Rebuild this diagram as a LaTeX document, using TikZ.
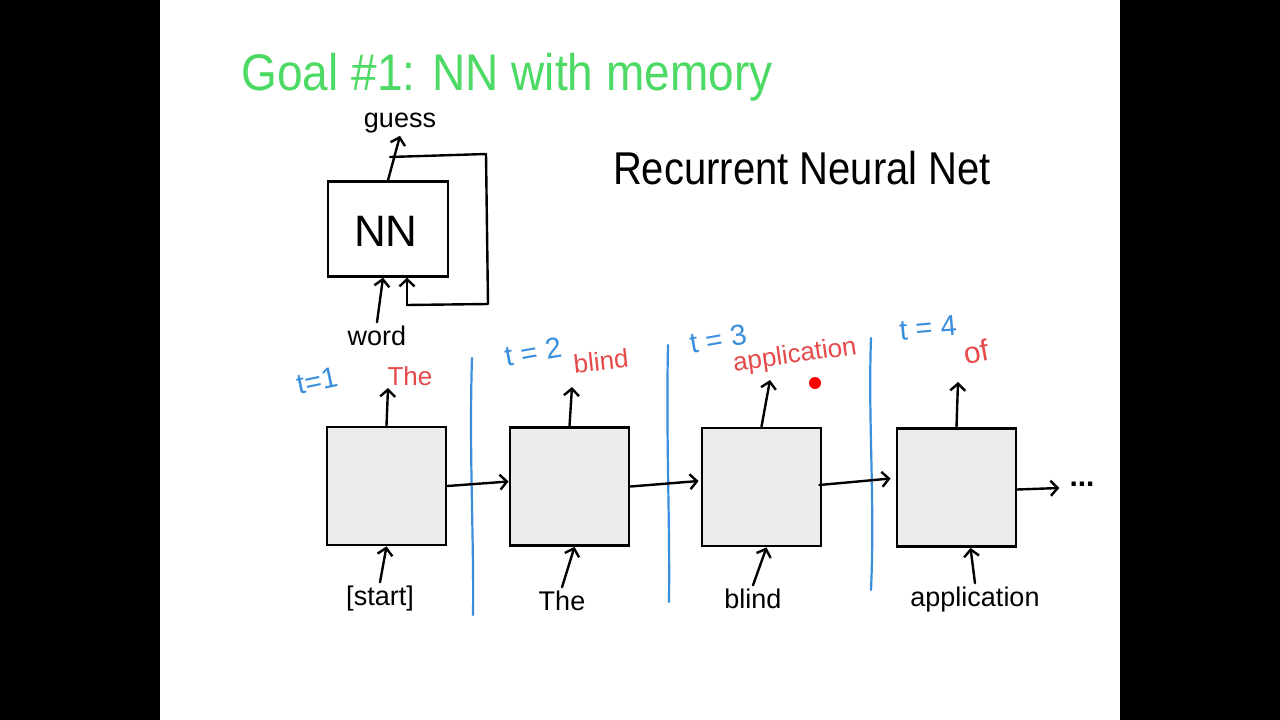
\documentclass[tikz,border=0pt]{standalone}
\usepackage{fontspec}
\setmainfont{Liberation Sans}
\usetikzlibrary{arrows.meta,calc}
\definecolor{hgreen}{HTML}{4CD964}
\definecolor{hred}{HTML}{E64A4A}
\definecolor{hblue}{HTML}{3A8EDE}
\definecolor{boxgray}{HTML}{ECECEC}
\begin{document}
\begin{tikzpicture}[x=1pt,y=-1pt,
  ink/.style={line width=2.4pt,draw=black,line cap=round,line join=round},
  arr/.style={ink,-{Straight Barb[length=7pt,width=15pt,line width=2.4pt]}},
  cell/.style={draw=black,line width=2.8pt,fill=boxgray,minimum width=119pt,minimum height=118pt,inner sep=0pt},
  nnbox/.style={draw=black,line width=2.4pt,minimum width=120pt,minimum height=95pt,inner sep=0pt},
  blk/.style={text=black,inner sep=3pt,font=\fontsize{27}{30}\selectfont},
  rlbl/.style={text=hred,inner sep=1pt,font=\fontsize{26}{30}\selectfont},
  tlbl/.style={text=hblue,inner sep=1pt,font=\fontsize{29}{32}\selectfont},
  sep/.style={draw=hblue,line width=2.2pt,line cap=round}]
\fill[black] (0,0) rectangle (1280,720);
\fill[white] (160,0) rectangle (1120,720);
\useasboundingbox (0,0) rectangle (1280,720);

% title
\node[anchor=base,text=hgreen,inner sep=0pt,font=\fontsize{46}{50}\selectfont,yscale=1.12] (title) at (507,90) {Goal \#1: NN with memory};
\node[anchor=base,text=black,inner sep=0pt,font=\fontsize{40}{46}\selectfont,yscale=1.15] (rnn) at (802,184) {Recurrent Neural Net};

% small NN with loop
\node[nnbox] (nn) at (388,229) {};
\node[anchor=base,inner sep=0pt,font=\fontsize{44}{48}\selectfont] (nntext) at (386,246) {NN};
\node[blk,anchor=base] (guess) at (400,127) {guess};
\node[blk,anchor=base] (word) at (377,345) {word};
\coordinate (loopstart) at (390,157);
\coordinate (nnin) at ($(nn.south)+(19,0)$);
\draw[arr] (nn.north) -- (guess.south);
\draw[ink] (loopstart) -- (486,154) -- (488,304) -- (407,305);
\draw[arr] (407,305) -- (nnin);
\draw[arr] (word.north) -- ($(nn.south)+(-5,0)$);

% unrolled cells
\node[cell] (b1) at (386.5,486) {};
\node[cell] (b2) at (569.5,486.5) {};
\node[cell] (b3) at (761.5,487) {};
\node[cell] (b4) at (956.5,487.5) {};

% outputs
\coordinate (o1) at (388,388);
\coordinate (o2) at (572,387);
\coordinate (o3) at (770,380);
\coordinate (o4) at (958,382);
\draw[arr] (b1.north) -- (o1);
\draw[arr] (b2.north) -- (o2);
\draw[arr] (b3.north) -- (o3);
\draw[arr] (b4.north) -- (o4);

\node[rlbl,anchor=base] (r1) at (410,385) {The};
\node[rlbl,rotate=6] (r2) at (601,361) {blind};
\node[rlbl,rotate=8] (r3) at (795,356) {application};
\node[rlbl,rotate=10,font=\fontsize{30}{32}\selectfont] (r4) at (976,352) {of};

\node[tlbl,rotate=12] (t1) at (317,381) {t=1};
\node[tlbl,rotate=10] (t2) at (533,352) {t = 2};
\node[tlbl,rotate=10] (t3) at (718,339) {t = 3};
\node[tlbl,rotate=5] (t4) at (928,328) {t = 4};

% time separators
\draw[sep] (472,358) .. controls (469,450) and (474,540) .. (473,615);
\draw[sep] (668,345) .. controls (666,440) and (670,520) .. (669,602);
\draw[sep] (871,338) .. controls (868,420) and (875,500) .. (871,590);

% recurrent arrows
\node[blk,inner sep=2pt,font=\bfseries\fontsize{30}{32}\selectfont] (dots) at (1082,484) {...};
\draw[arr] (b1.east) -- ($(b2.west)+(0,-5)$);
\draw[arr] (b2.east) -- ($(b3.west)+(-2,-6)$);
\draw[arr] ($(b3.east)+(-3,-2)$) -- ($(b4.west)+(-5,-9)$);
\draw[arr] ($(b4.east)+(0,2)$) -- ($(dots.west)+(-8,4)$);

% inputs
\node[blk,anchor=base] (i1) at (380,605) {[start]};
\node[blk,anchor=base] (i2) at (562,610) {The};
\node[blk,anchor=base] (i3) at (753,608) {blind};
\node[blk,anchor=base] (i4) at (975,606) {application};
\draw[arr] (i1.north) -- (b1.south);
\draw[arr] (i2.north) -- ($(b2.south)+(5,0)$);
\draw[arr] (i3.north) -- ($(b3.south)+(5,0)$);
\draw[arr] (i4.north) -- ($(b4.south)+(14,0)$);

% red pointer dot
\fill[red] (815,383) circle (6);
\end{tikzpicture}
\end{document}
